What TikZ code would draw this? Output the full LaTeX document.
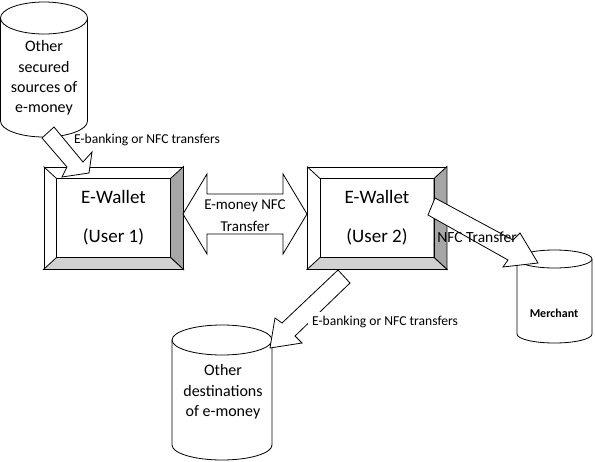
\documentclass[tikz,border=0pt]{standalone}
\usepackage{fontspec}
\setmainfont{Carlito}
\usepackage{tikz}

\tikzset{
  blockarrow/.style={draw, fill=white, line width=0.8pt, line join=miter},
  bevelbox/.style={draw, fill=white, line width=0.8pt, minimum width=139pt, minimum height=102pt, inner sep=0pt},
  store/.style={draw, fill=white, line width=0.8pt},
  walletfont/.style={font=\fontsize{19}{23}\selectfont, align=center},
  storefont/.style={font=\fontsize{16}{20.3}\selectfont, align=center},
  lbl/.style={font=\fontsize{13.6}{16}\selectfont, inner sep=1pt}
}

\begin{document}
\begin{tikzpicture}[x=1pt, y=-1pt]
\useasboundingbox (0,0) rectangle (595,461);

% stores
\draw[style=store] (0.5,18) -- (0.5,121)
  arc[start angle=180, end angle=0, x radius=43.5, y radius=16] -- (87.5,18);
\draw[style=store] (44,18) ellipse [x radius=43.5, y radius=16];
\node[storefont] (src) at (44,78) {Other\\secured\\sources of\\e-money};

\draw[style=store] (517,259) -- (517,334)
  arc[start angle=180, end angle=0, x radius=37.5, y radius=9] -- (592,259);
\draw[style=store] (554.5,259) ellipse [x radius=37.5, y radius=9];
\node[font=\fontsize{12}{14}\selectfont\bfseries] (merchant) at (554,313) {Merchant};

\draw[style=store] (172,340) -- (172,445)
  arc[start angle=180, end angle=0, x radius=50, y radius=15] -- (272,340);
\draw[style=store] (222,340) ellipse [x radius=50, y radius=15];
\node[storefont] (dst) at (223,392) {Other\\destinations\\of e-money};

% wallets
\node[bevelbox] (w1) at (113.5,218) {};
\node[bevelbox] (w2) at (377,218) {};
\foreach \w in {w1,w2} {
  \draw[fill=gray!70, line width=0.8pt] (\w.north east) -- (\w.south east)
    -- ([shift={(-13,-12)}]\w.south east) -- ([shift={(-13,12)}]\w.north east) -- cycle;
  \draw[fill=gray!35, line width=0.8pt] (\w.south west) -- (\w.south east)
    -- ([shift={(-13,-12)}]\w.south east) -- ([shift={(13,-12)}]\w.south west) -- cycle;
  \draw[line width=0.8pt] (\w.north west) -- ([shift={(13,12)}]\w.north west);
  \draw[line width=0.8pt] ([shift={(13,12)}]\w.north west) rectangle ([shift={(-13,-12)}]\w.south east);
}
\node[walletfont] (u1) at (w1) {E-Wallet\\[16pt](User 1)};
\node[walletfont] (u2) at (w2) {E-Wallet\\[16pt](User 2)};

% block arrows
\draw[style=blockarrow] (42,138) -- (67,167) -- (62,177) -- (89,173)
  -- (92,152) -- (83,162) -- (54,127) -- cycle;

\draw[style=blockarrow] (183,214) -- (207,174) -- (207,194) -- (283,194)
  -- (283,174) -- (307,214) -- (283,254) -- (283,234) -- (207,234)
  -- (207,254) -- cycle;

\draw[style=blockarrow] (435,198) -- (513,240) -- (520,233) -- (538,263)
  -- (503,267) -- (508,260) -- (428,215) -- cycle;

\draw[style=blockarrow] (338,270) -- (282,323) -- (275,318) -- (270,348)
  -- (302,343) -- (295,336) -- (350,283) -- cycle;

% labels
\node[lbl] (in) at (147,140) {E-banking or NFC transfers};
\node[lbl, fill=white, inner sep=4pt] (out) at (385,322) {E-banking or NFC transfers};
\node[font=\fontsize{15}{22}\selectfont, align=center] (nfc) at (245,216) {E-money NFC\\Transfer};
\node[font=\fontsize{15.5}{18}\selectfont] (pay) at (477,237) {NFC Transfer};

\end{tikzpicture}
\end{document}
